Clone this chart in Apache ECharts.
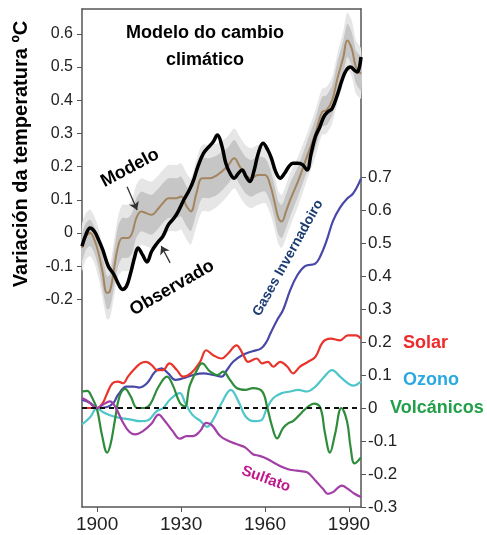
<!DOCTYPE html>
<html>
<head>
<meta charset="utf-8">
<script src="https://cdn.jsdelivr.net/npm/echarts@6/dist/echarts.min.js"></script>
<style>
  html, body { margin: 0; padding: 0; background: #fff; }
  #chart { width: 487px; height: 535px; }
</style>
</head>
<body>
<div id="chart"></div>
<script>
// top panel: observed and modelled temperature change (left axis)
const obsYears = [1894.6,1896,1897.5,1899,1900.5,1902,1904,1906,1908,1909,
  1910.5,1912,1913.5,1914.6,1916.2,1917.8,1919.5,1921.5,1923.5,1925.5,
  1927.5,1929,1931,1933,1934.5,1936,1938,1940,1941.5,1943,
  1944.5,1946,1947.5,1949,1950.5,1951.8,1953.2,1954.6,1956,1957.6,
  1959.3,1961,1962.3,1963.8,1965.4,1967,1968.5,1970,1971.8,1973.5,
  1975,1976.5,1978,1979.6,1981,1982.5,1984,1986,1987.5,1989,
  1990.5,1992,1993,1994.3];
const obsVals = [-0.04,-0.005,0.015,0.005,-0.02,-0.05,-0.1,-0.125,-0.16,-0.17,
  -0.16,-0.12,-0.07,-0.045,-0.065,-0.087,-0.055,-0.03,-0.01,0.025,
  0.045,0.065,0.1,0.13,0.16,0.2,0.24,0.26,0.275,0.295,
  0.265,0.21,0.18,0.165,0.18,0.19,0.17,0.155,0.185,0.24,
  0.27,0.25,0.225,0.185,0.165,0.18,0.2,0.21,0.21,0.205,
  0.19,0.24,0.29,0.32,0.35,0.365,0.375,0.42,0.46,0.49,
  0.5,0.49,0.485,0.53];

const modelYears = [1894.6,1896,1897.5,1899,1900.5,1902,1903.5,1904.6,1906,1907.5,
  1909,1911,1912.5,1914,1915.8,1917.5,1919.5,1921.5,1923.5,1925.5,
  1928.5,1930,1932,1933.5,1935.5,1937.5,1940,1943,1946.5,1949,
  1951,1953,1955,1957.5,1960,1962,1963.5,1964.8,1966,1967.5,
  1969,1972,1975,1978,1980.4,1982,1984,1986,1988,1989.4,
  1991,1992.5,1994.3];
const modelVals = [-0.045,-0.01,0.0,-0.02,-0.06,-0.12,-0.18,-0.175,-0.11,-0.04,
  -0.015,-0.015,0.0,0.045,0.065,0.06,0.055,0.07,0.09,0.105,
  0.105,0.11,0.08,0.065,0.12,0.165,0.165,0.175,0.2,0.225,
  0.2,0.175,0.165,0.175,0.175,0.14,0.09,0.045,0.035,0.065,
  0.1,0.16,0.23,0.3,0.365,0.37,0.4,0.47,0.53,0.58,
  0.555,0.5,0.48];
// half widths of the grey uncertainty bands around the model
const innerHalf = [0.04,0.04,0.04,0.04,0.045,0.05,0.05,0.05,0.055,0.06,
  0.06,0.06,0.06,0.06,0.06,0.06,0.06,0.06,0.06,0.06,
  0.06,0.06,0.06,0.06,0.06,0.06,0.06,0.06,0.055,0.055,
  0.055,0.055,0.055,0.055,0.05,0.05,0.05,0.05,0.05,0.05,
  0.05,0.045,0.045,0.045,0.045,0.045,0.045,0.05,0.05,0.05,
  0.05,0.05,0.05];
const outerHalf = [0.07,0.07,0.07,0.07,0.075,0.08,0.08,0.08,0.085,0.09,
  0.1,0.1,0.1,0.1,0.1,0.1,0.1,0.1,0.1,0.1,
  0.1,0.1,0.1,0.1,0.1,0.1,0.1,0.095,0.09,0.09,
  0.09,0.09,0.09,0.09,0.085,0.085,0.08,0.08,0.08,0.08,
  0.08,0.075,0.07,0.07,0.07,0.07,0.07,0.075,0.08,0.085,
  0.085,0.08,0.075];

// bottom panel: forcings (right axis)
const ghgYears = [1894.6,1897.5,1900,1903.6,1905.8,1907.5,1910.5,1913,1915,1917.8,
  1920.7,1923,1925.4,1928,1930.7,1934.3,1938,1941.5,1944.5,1946.4,
  1948.6,1951.8,1955.5,1958.5,1960.5,1962,1964.3,1966.4,1969,1971.4,
  1974.3,1977.9,1979.6,1982,1984.3,1986.8,1989.3,1991.5,1994.3];
const ghgVals = [0.025,0.015,0.0,0.003,0.015,0.04,0.065,0.065,0.062,0.075,
  0.11,0.12,0.105,0.085,0.09,0.1,0.105,0.1,0.095,0.115,
  0.14,0.16,0.172,0.18,0.2,0.227,0.266,0.296,0.357,0.4,
  0.43,0.437,0.457,0.507,0.567,0.607,0.634,0.65,0.695];

const solarYears = [1894.6,1897.5,1900,1902,1903.6,1905.5,1907.5,1909.3,1911,1913,
  1915.5,1917.5,1919.5,1921.5,1923.6,1925.8,1928.5,1930.7,1933.5,1936.8,
  1939,1941.5,1944.5,1946.8,1949.8,1952,1954,1957,1959,1961,
  1963,1965.4,1968,1970,1972.5,1975.4,1978,1980.7,1983.5,1986.8,
  1989.6,1992.5,1994.3];
const solarVals = [0.0,0.0,0.0,0.015,0.045,0.075,0.08,0.075,0.095,0.115,
  0.135,0.14,0.13,0.115,0.115,0.135,0.115,0.095,0.105,0.14,
  0.175,0.16,0.15,0.165,0.19,0.165,0.14,0.15,0.135,0.14,
  0.125,0.14,0.125,0.105,0.125,0.14,0.155,0.2,0.21,0.205,
  0.22,0.22,0.21];

const ozoneYears = [1894.6,1897.5,1900,1902,1904.6,1908,1912,1915.4,1918,1921.2,
  1923.6,1926,1929.5,1931.5,1934,1937,1939.3,1941.5,1944.5,1947.8,
  1950.5,1953,1956,1958.5,1960.7,1963,1966,1969,1971.8,1975,
  1978,1980.7,1984,1986.8,1989.6,1991.5,1994.3];
const ozoneVals = [-0.05,-0.028,0.0,-0.012,-0.022,-0.03,-0.035,-0.04,-0.038,-0.01,
  0.0,0.025,0.045,0.015,-0.02,-0.04,-0.057,-0.035,0.015,0.055,
  0.02,-0.025,-0.04,-0.038,0.0,0.03,0.045,0.05,0.055,0.05,
  0.065,0.09,0.115,0.095,0.075,0.068,0.08];

const volcYears = [1894.6,1896.5,1898,1900,1901.7,1903.6,1904.8,1906.4,1908,1910,
  1912,1914.3,1917,1919,1922,1925,1927,1929.6,1931.4,1933,
  1935.7,1937.5,1940.4,1943,1945,1947.5,1950,1953,1955.7,1959,
  1960.7,1962.5,1964.3,1966.5,1968.5,1970,1973,1975.5,1977.5,1979.8,
  1981.4,1983.2,1985,1987.3,1989.3,1990.6,1992,1994.3];
const volcVals = [0.05,0.052,0.035,-0.005,-0.08,-0.135,-0.11,-0.035,0.035,0.058,
  0.035,0.0,0.0,0.012,0.065,0.095,0.07,0.015,0.005,0.065,
  0.115,0.135,0.11,0.1,0.11,0.085,0.06,0.055,0.06,0.05,
  0.005,-0.055,-0.092,-0.06,-0.045,-0.04,-0.015,0.005,0.013,0.0,
  -0.075,-0.135,-0.08,0.0,-0.04,-0.12,-0.168,-0.15];

const sulfYears = [1894.6,1896.8,1900,1902,1904.6,1906.4,1909,1911.5,1913.6,1916.4,
  1919.4,1922,1924,1927,1929.6,1932,1934.3,1936.8,1939,1941,
  1944,1947,1950,1953,1955.7,1958,1961,1964,1968,1971.4,
  1975,1978,1980.7,1982.5,1984.3,1987.5,1989.6,1992,1994.3];
const sulfVals = [0.03,0.02,0.0,0.01,0.02,0.005,-0.04,-0.072,-0.08,-0.07,
  -0.048,-0.02,-0.037,-0.07,-0.093,-0.085,-0.085,-0.07,-0.045,-0.052,
  -0.085,-0.1,-0.11,-0.12,-0.14,-0.145,-0.155,-0.17,-0.185,-0.19,
  -0.195,-0.22,-0.245,-0.26,-0.255,-0.235,-0.245,-0.26,-0.27];

const xTicks = [1900, 1930, 1960, 1990];
const leftTicks = [-0.2, -0.1, 0, 0.1, 0.2, 0.3, 0.4, 0.5, 0.6];
const rightTicks = [-0.3, -0.2, -0.1, 0, 0.1, 0.2, 0.3, 0.4, 0.5, 0.6, 0.7];

const pairs = (xs, ys) => xs.map((x, i) => [x, ys[i]]);
const fmt = v => v === 0 ? '0' : v.toFixed(1);
const font = 'Liberation Sans, Arial, sans-serif';

const myChart = echarts.init(document.getElementById('chart'), null, {renderer: 'canvas'});

// grey band as one polygon: upper edge left->right, lower edge back
function band(half, color) {
  const data = modelYears.map((x, i) => [x, modelVals[i] - half[i], modelVals[i] + half[i]]);
  return {
    type: 'custom', yAxisIndex: 0, silent: true, z: 1,
    encode: {x: 0, y: [1, 2]},
    data: data,
    renderItem: (params, api) => {
      if (params.dataIndex !== 0) return;
      const up = data.map(d => api.coord([d[0], d[2]]));
      const low = data.map(d => api.coord([d[0], d[1]])).reverse();
      return {
        type: 'polygon',
        shape: {points: up.concat(low), smooth: 0.25},
        style: {fill: color}
      };
    }
  };
}

function forcing(xs, ys, color) {
  return {
    type: 'line', yAxisIndex: 1, symbol: 'none', smooth: 0.4, z: 3,
    lineStyle: {color: color, width: 2.2},
    data: pairs(xs, ys)
  };
}

const dashedZero = forcing(solarYears, solarVals, '#e8342c');
dashedZero.markLine = {
  silent: true, symbol: ['none', 'none'], label: {show: false},
  lineStyle: {color: '#111', width: 2, type: [5, 4]},
  data: [{yAxis: 0}]
};

let option = {
  backgroundColor: '#fff',
  animation: false,
  grid: {left: 82, right: 126, top: 9, bottom: 28},
  xAxis: [
    {
      type: 'value', min: 1894.6, max: 1994.3,
      axisLine: {show: true, onZero: false, lineStyle: {color: '#555', width: 1.5}},
      axisTick: {show: true, length: 5, customValues: xTicks, lineStyle: {color: '#555'}},
      axisLabel: {customValues: xTicks, formatter: v => String(v), color: '#222', fontSize: 19, fontFamily: font, margin: 8},
      splitLine: {show: false}
    },
    {
      type: 'value', position: 'top', min: 1894.6, max: 1994.3,
      axisLine: {show: true, onZero: false, lineStyle: {color: '#555', width: 1.5}},
      axisTick: {show: false}, axisLabel: {show: false}, splitLine: {show: false}
    }
  ],
  yAxis: [
    {
      type: 'value', position: 'left', min: -0.8253, max: 0.6747,
      axisLine: {show: true, onZero: false, lineStyle: {color: '#555', width: 1.5}},
      axisTick: {show: true, length: 5, customValues: leftTicks, lineStyle: {color: '#555'}},
      axisLabel: {customValues: leftTicks, formatter: fmt, color: '#222', fontSize: 16, fontFamily: font, margin: 9},
      splitLine: {show: false}
    },
    {
      type: 'value', position: 'right', min: -0.3, max: 1.209,
      axisLine: {show: true, onZero: false, lineStyle: {color: '#555', width: 1.5}},
      axisTick: {show: true, length: 5, customValues: rightTicks, lineStyle: {color: '#555'}},
      axisLabel: {customValues: rightTicks, formatter: fmt, color: '#222', fontSize: 17, fontFamily: font, margin: 7},
      splitLine: {show: false}
    }
  ],
  series: [
    band(outerHalf, '#e6e6e6'),
    band(innerHalf, '#c6c6c6'),
    {
      type: 'line', yAxisIndex: 0, symbol: 'none', smooth: 0.4, z: 2,
      lineStyle: {color: '#a3855f', width: 2},
      data: pairs(modelYears, modelVals)
    },
    {
      type: 'line', yAxisIndex: 0, symbol: 'none', smooth: 0.4, z: 4,
      lineStyle: {color: '#000', width: 3.5},
      data: pairs(obsYears, obsVals),
      markLine: {
        silent: true, symbol: ['none', 'arrow'], symbolSize: 8, label: {show: false},
        lineStyle: {color: '#333', width: 1.3, type: 'solid'},
        data: [
          [{coord: [1910.7, 0.139]}, {coord: [1914.3, 0.069]}],
          [{coord: [1926.1, -0.09]}, {coord: [1922.9, -0.039]}]
        ]
      }
    },
    forcing(ghgYears, ghgVals, '#4848a8'),
    dashedZero,
    forcing(ozoneYears, ozoneVals, '#4fc6c9'),
    forcing(volcYears, volcVals, '#2f8c3c'),
    forcing(sulfYears, sulfVals, '#a23fa6')
  ],
  graphic: [
    {type: 'text', x: 205, y: 33, style: {text: 'Modelo do cambio', font: 'bold 18px ' + font, fill: '#000', align: 'center', verticalAlign: 'middle'}},
    {type: 'text', x: 205, y: 60, style: {text: 'climático', font: 'bold 18px ' + font, fill: '#000', align: 'center', verticalAlign: 'middle'}},
    {type: 'text', x: 21, y: 154, rotation: Math.PI / 2, style: {text: 'Variación da temperatura ºC', font: 'bold 20px ' + font, fill: '#000', align: 'center', verticalAlign: 'middle'}},
    {type: 'text', x: 130, y: 168, rotation: 28 * Math.PI / 180, style: {text: 'Modelo', font: 'bold 18px ' + font, fill: '#000', align: 'center', verticalAlign: 'middle'}},
    {type: 'text', x: 172, y: 288, rotation: 30 * Math.PI / 180, style: {text: 'Observado', font: 'bold 18px ' + font, fill: '#000', align: 'center', verticalAlign: 'middle'}},
    {type: 'text', x: 288, y: 258, rotation: 61 * Math.PI / 180, style: {text: 'Gases Invernadoiro', font: 'bold 14px ' + font, fill: '#1f3d73', align: 'center', verticalAlign: 'middle'}},
    {type: 'text', x: 266, y: 479, rotation: -20 * Math.PI / 180, style: {text: 'Sulfato', font: 'bold 15px ' + font, fill: '#c0188c', align: 'center', verticalAlign: 'middle'}},
    {type: 'text', x: 403, y: 343, style: {text: 'Solar', font: 'bold 18px ' + font, fill: '#ee2a2a', verticalAlign: 'middle'}},
    {type: 'text', x: 403, y: 380, style: {text: 'Ozono', font: 'bold 18px ' + font, fill: '#2aa9e1', verticalAlign: 'middle'}},
    {type: 'text', x: 390, y: 408, style: {text: 'Volcánicos', font: 'bold 18px ' + font, fill: '#22a049', verticalAlign: 'middle'}}
  ]
};

myChart.setOption(option);
window.addEventListener('resize', () => myChart.resize());
</script>
</body>
</html>
